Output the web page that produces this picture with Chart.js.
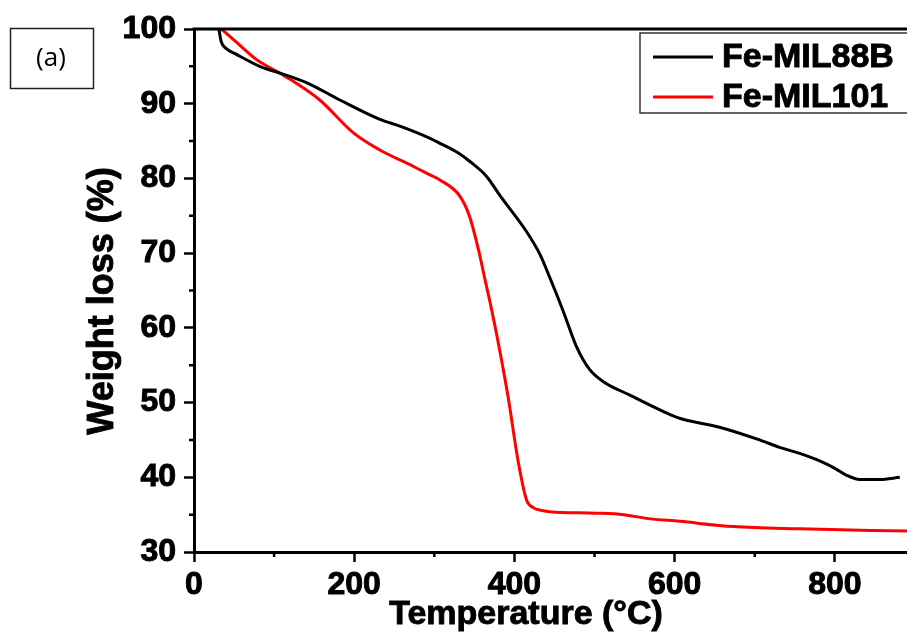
<!DOCTYPE html>
<html>
<head>
<meta charset="utf-8">
<script src="https://cdn.jsdelivr.net/npm/chart.js@4.4.1/dist/chart.umd.min.js"></script>
<style>
  html, body { margin: 0; padding: 0; background: #fff; }
  #wrap { width: 907px; height: 632px; }
</style>
</head>
<body>
<div id="wrap"><canvas id="grafico" width="907" height="632"></canvas></div>
<script>
// Fe-MIL88B
const tempA = [31, 34, 40, 53, 82, 107, 141, 182, 232, 257, 294, 307, 330, 344, 365, 382, 415, 432, 445, 461, 477, 494, 511, 544, 586, 606, 656, 706, 731, 756, 781, 800, 814, 831, 856, 881];
const pesoA = [100, 98.3, 97.4, 96.6, 95.0, 94.1, 92.8, 90.5, 87.9, 87.0, 85.4, 84.7, 83.4, 82.3, 80.3, 77.7, 72.9, 69.8, 66.5, 62.2, 57.6, 54.4, 52.8, 51.0, 48.8, 47.9, 46.7, 45.0, 44.0, 43.2, 42.2, 41.2, 40.3, 39.7, 39.7, 40.0];

// Fe-MIL101
const tempB = [34, 50, 78, 107, 124, 157, 199, 232, 274, 294, 307, 332, 344, 355, 363, 370, 378, 392, 405, 415, 424, 432, 444, 502, 536, 565, 606, 673, 756, 890];
const pesoB = [100, 98.5, 95.9, 94.1, 93.0, 90.5, 86.1, 83.8, 81.6, 80.5, 79.8, 77.6, 74.9, 70.5, 66.6, 63.2, 59.0, 50.8, 41.9, 37.0, 35.9, 35.6, 35.4, 35.2, 35.0, 34.5, 34.1, 33.4, 33.1, 32.8];

const nomes = ['Fe-MIL88B', 'Fe-MIL101'];
const cores = ['#000000', '#ff0000'];
const xMenores = [100, 300, 500, 700];
const yMenores = [35, 45, 55, 65, 75, 85, 95];

const fonte = '"Liberation Sans", Arial, sans-serif';

function pontos(xs, ys) {
    return xs.map((x, i) => ({ x: x, y: ys[i] }));
}

// texto em negrito um pouco mais grosso, como no original
function textoGrosso(ctx, txt, x, y) {
    ctx.lineWidth = 0.9;
    ctx.strokeStyle = '#000';
    ctx.strokeText(txt, x, y);
    ctx.fillText(txt, x, y);
}

const extras = {
    id: 'extras',
    afterDraw(chart) {
        const { ctx, chartArea: a, scales: { x, y } } = chart;
        ctx.save();
        ctx.strokeStyle = '#000';

        // linha de cima
        ctx.lineWidth = 3;
        ctx.beginPath();
        ctx.moveTo(a.left - 1.5, a.top);
        ctx.lineTo(a.right, a.top);
        ctx.stroke();

        // ticks menores
        ctx.lineWidth = 2.5;
        ctx.beginPath();
        xMenores.forEach(v => {
            const px = x.getPixelForValue(v);
            ctx.moveTo(px, a.bottom);
            ctx.lineTo(px, a.bottom + 5);
        });
        yMenores.forEach(v => {
            const py = y.getPixelForValue(v);
            ctx.moveTo(a.left, py);
            ctx.lineTo(a.left - 5, py);
        });
        ctx.stroke();

        // titulos dos eixos
        ctx.fillStyle = '#000';
        ctx.font = 'bold 34px ' + fonte;
        ctx.textAlign = 'center';
        ctx.textBaseline = 'alphabetic';
        textoGrosso(ctx, 'Temperature (\u00B0C)', 526, 624);

        ctx.save();
        ctx.translate(113, 301);
        ctx.rotate(-Math.PI / 2);
        ctx.font = 'bold 36px ' + fonte;
        textoGrosso(ctx, 'Weight loss (%)', 0, 0);
        ctx.restore();

        // legenda
        ctx.lineWidth = 1.5;
        ctx.strokeStyle = '#333';
        ctx.strokeRect(640, 33, 280, 80);
        ctx.font = 'bold 34px ' + fonte;
        ctx.textAlign = 'left';
        nomes.forEach((n, i) => {
            const ly = 57 + i * 40;
            ctx.strokeStyle = cores[i];
            ctx.lineWidth = 3;
            ctx.beginPath();
            ctx.moveTo(653, ly);
            ctx.lineTo(713, ly);
            ctx.stroke();
            ctx.fillStyle = '#000';
            textoGrosso(ctx, n, 722, ly + 10);
        });

        // (a)
        ctx.strokeStyle = '#222';
        ctx.lineWidth = 1.5;
        ctx.strokeRect(10.5, 28.5, 83, 60);
        ctx.font = '26px "Open Sans", sans-serif';
        ctx.textAlign = 'center';
        ctx.textBaseline = 'middle';
        ctx.fillText('(a)', 51, 59);

        ctx.restore();
    }
};

const ctx = document.getElementById('grafico').getContext('2d');

const chart = new Chart(ctx, {
    type: 'line',
    data: {
        datasets: [{
            label: nomes[0],
            data: pontos(tempA, pesoA),
            borderColor: cores[0],
            borderWidth: 3,
            pointRadius: 0,
            cubicInterpolationMode: 'monotone',
            fill: false
        }, {
            label: nomes[1],
            data: pontos(tempB, pesoB),
            borderColor: cores[1],
            borderWidth: 3,
            pointRadius: 0,
            cubicInterpolationMode: 'monotone',
            fill: false
        }]
    },
    options: {
        responsive: false,
        animation: false,
        layout: { padding: { top: 29, right: 0, left: 0, bottom: 0 } },
        scales: {
            x: {
                type: 'linear',
                min: 0,
                max: 890,
                afterFit: (s) => { s.height = 80; },
                border: { color: '#000', width: 3 },
                grid: { drawOnChartArea: false, tickLength: 10, tickColor: '#000', tickWidth: 2.5 },
                ticks: {
                    stepSize: 200,
                    includeBounds: false,
                    maxRotation: 0,
                    padding: 4,
                    color: '#000',
                    textStrokeColor: '#000',
                    textStrokeWidth: 1,
                    font: { family: fonte, size: 32, weight: 'bold' }
                }
            },
            y: {
                min: 30,
                max: 100,
                afterFit: (s) => { s.width = 194; },
                border: { color: '#000', width: 3 },
                grid: { drawOnChartArea: false, tickLength: 10, tickColor: '#000', tickWidth: 2.5 },
                ticks: {
                    stepSize: 10,
                    padding: 8,
                    color: '#000',
                    textStrokeColor: '#000',
                    textStrokeWidth: 1,
                    font: { family: fonte, size: 32, weight: 'bold' }
                }
            }
        },
        plugins: {
            legend: { display: false },
            tooltip: { enabled: false }
        }
    },
    plugins: [extras]
});
</script>
</body>
</html>
